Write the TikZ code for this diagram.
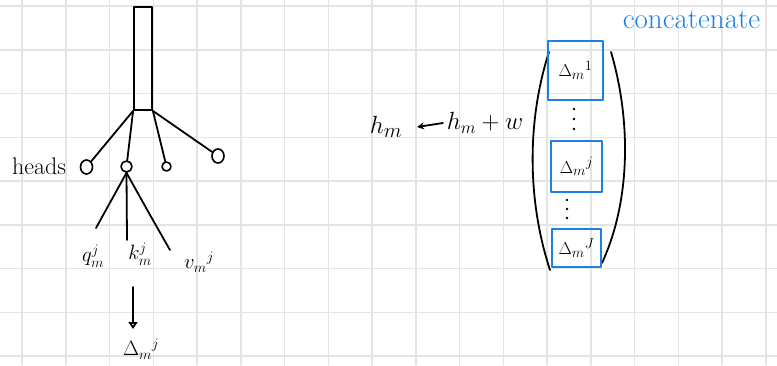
\documentclass[tikz,border=0pt]{standalone}
\usetikzlibrary{shapes.geometric,arrows.meta}
\definecolor{gridc}{RGB}{228,228,228}
\definecolor{penblue}{RGB}{30,128,230}
\begin{document}
\begin{tikzpicture}[x=1pt,y=-1pt, line width=1.8pt, line cap=round, line join=round,
  headc/.style={draw, ellipse, inner sep=0pt, line width=1.6pt},
  lbl/.style={inner sep=0pt, font=\fontsize{22}{24}\selectfont},
  bluebox/.style={draw=penblue, line width=1.8pt, inner sep=0pt, font=\fontsize{19}{21}\selectfont},
  gridline/.style={gridc, line width=1.5pt}]
\useasboundingbox (0,0) rectangle (777,365);
\fill[white] (0,0) rectangle (777,365);
\foreach \i in {0,...,17} \draw[gridline] ({22+43.75*\i},0) -- ({22+43.75*\i},365);
\foreach \j in {0,...,8} \draw[gridline] (0,{6+43.75*\j}) -- (777,{6+43.75*\j});

% left tree
\node[draw, minimum width=18pt, minimum height=103pt, inner sep=0pt] (stack) at (143,58.5) {};
\node[headc, minimum width=12pt, minimum height=14pt] (c1) at (86.5,167) {};
\node[headc, minimum width=11pt, minimum height=11pt] (c2) at (126.5,166.5) {};
\node[headc, minimum width=9pt, minimum height=9pt] (c3) at (166.5,166.5) {};
\node[headc, minimum width=12pt, minimum height=14pt] (c4) at (218,156) {};
\draw (stack.south west) -- (c1);
\draw (stack.south west) -- (c2);
\draw (stack.south east) -- (c3);
\draw (stack.south east) -- (c4);
\node[inner sep=0pt, font=\fontsize{24}{26}\selectfont] (heads) at (39,166) {heads};

\coordinate (qe) at (96,228);
\coordinate (ke) at (127,240);
\coordinate (ve) at (170,250);
\draw (c2.south) -- (qe);
\draw (c2.south) -- (ke);
\draw (c2.south) .. controls (150,215) .. (ve);
\node[lbl] (q) at (93,256) {$q_m^j$};
\node[lbl] (k) at (140,254) {$k_m^j$};
\node[lbl] (v) at (199,262) {$v_m{}^j$};

\coordinate (as) at (133,287);
\coordinate (ae) at (133,329);
\draw[-{Triangle[open,length=7pt,width=9pt]}] (as) -- (ae);
\node[lbl, font=\fontsize{20}{22}\selectfont] (dj) at (141,349) {$\Delta_m{}^j$};

% right side
\node[inner sep=0pt, font=\fontsize{28}{30}\selectfont] (lhs) at (386,127) {$h_m$};
\node[inner sep=0pt, font=\fontsize{24}{26}\selectfont] (rhs) at (485,123) {$h_m + w$};
\draw[-{Stealth[length=7pt,width=7pt]}] ([xshift=-3pt]rhs.west) -- ([xshift=14pt]lhs.east);

\draw (549,52) .. controls (527,120) and (527,200) .. (550,270);
\draw (611,52) .. controls (631,120) and (631,200) .. (602,263);

\node[bluebox, minimum width=55pt, minimum height=59pt] (b1) at (575.5,70.5) {$\Delta_m{}^1$};
\node[bluebox, minimum width=51pt, minimum height=51pt] (b2) at (576.5,166.5) {$\Delta_m{}^j$};
\node[bluebox, minimum width=49pt, minimum height=38pt] (b3) at (576.5,248) {$\Delta_m{}^J$};
\foreach \y in {109,119,129} \fill (574,\y) circle (1.3pt);
\foreach \y in {200,209,218} \fill (567,\y) circle (1.3pt);

\node[anchor=west, text=penblue, inner sep=0pt, font=\fontsize{29}{30}\selectfont] (cat) at (622,20) {concatenate};
\end{tikzpicture}
\end{document}
